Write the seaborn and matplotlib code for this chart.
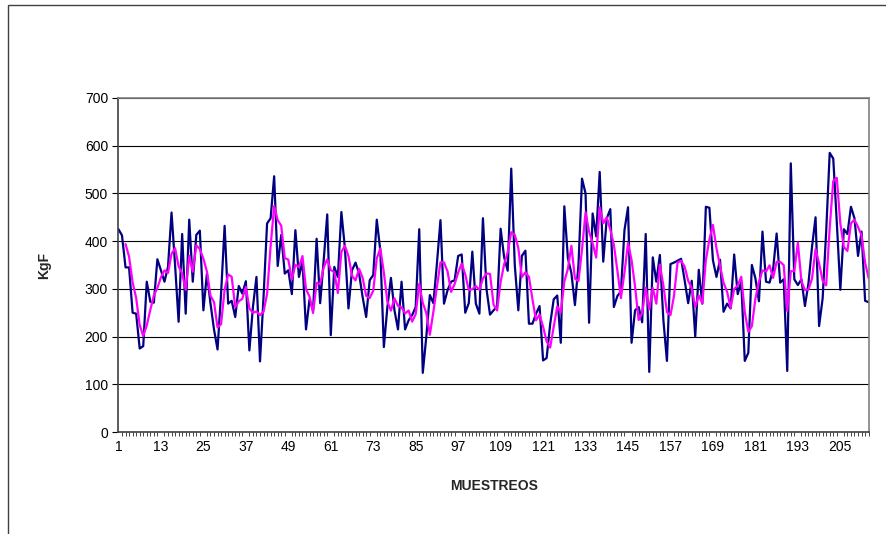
import matplotlib
matplotlib.use("Agg")
import matplotlib.pyplot as plt
import matplotlib.ticker as ticker
from matplotlib.patches import Rectangle
import seaborn as sns
import pandas as pd

sns.set_style("white")
plt.rcParams["font.family"] = ["Liberation Sans", "DejaVu Sans"]

# KgF per sample
kgf = [
    425, 412, 345, 345, 250, 248, 175, 180, 315, 273,
    271, 362, 339, 315, 346, 460, 350, 231, 415, 248,
    445, 315, 413, 422, 255, 332, 270, 215, 173, 290,
    432, 269, 275, 241, 306, 290, 316, 171, 262, 325,
    148, 283, 437, 448, 536, 348, 413, 332, 339, 289,
    423, 325, 358, 215, 278, 255, 405, 270, 360, 456,
    203, 346, 325, 461, 385, 259, 339, 355, 332, 283,
    241, 318, 329, 445, 380, 178, 262, 323, 255, 215,
    315, 215, 234, 245, 262, 425, 124, 200, 287, 270,
    353, 444, 269, 297, 315, 318, 369, 372, 250, 270,
    378, 269, 248, 448, 300, 246, 255, 263, 426, 366,
    338, 552, 350, 255, 369, 380, 227, 227, 248, 264,
    150, 155, 226, 278, 286, 187, 473, 365, 333, 266,
    350, 531, 500, 229, 458, 410, 545, 357, 448, 467,
    262, 285, 295, 423, 471, 187, 255, 262, 230, 415,
    126, 366, 315, 371, 234, 149, 352, 355, 359, 363,
    318, 270, 317, 200, 340, 269, 472, 470, 360, 325,
    361, 252, 269, 259, 372, 289, 315, 149, 166, 350,
    322, 274, 420, 315, 313, 341, 416, 313, 320, 128,
    563, 320, 308, 320, 264, 312, 388, 450, 222, 280,
    420, 585, 573, 440, 298, 425, 415, 472, 448, 369,
    420, 275, 272,
]
muestreos = list(range(1, len(kgf) + 1))
x_ticks = list(range(1, 206, 12))
y_ticks = [0, 100, 200, 300, 400, 500, 600, 700]

df = pd.DataFrame({"MUESTREOS": muestreos, "KgF": kgf})
# Excel style 3 period moving average trendline
df["media"] = df["KgF"].rolling(3).mean()

fig = plt.figure(figsize=(8.86, 5.34), dpi=100)
ax = fig.add_axes([0.1337, 0.191, 0.8475, 0.6255])

sns.lineplot(data=df, x="MUESTREOS", y="KgF", color="#000080", lw=1.6, ax=ax)
sns.lineplot(data=df, x="MUESTREOS", y="media", color="#FF00FF", lw=1.6, ax=ax)

ax.set_xlim(1, len(kgf) + 0.2)
ax.set_ylim(0, 700)
ax.set_xticks(x_ticks)
ax.xaxis.set_minor_locator(ticker.FixedLocator(muestreos))
ax.set_yticks(y_ticks)
ax.tick_params(axis="both", labelsize=10, colors="black", direction="out")
ax.tick_params(axis="x", which="major", length=3, width=0.8, pad=3)
ax.tick_params(axis="x", which="minor", length=3, width=0.6, bottom=True)
ax.tick_params(axis="y", length=4, width=0.8, left=True)

ax.yaxis.grid(True, color="black", lw=0.8)
ax.xaxis.grid(False)

for side in ["left", "bottom"]:
    ax.spines[side].set_color("#404040")
    ax.spines[side].set_linewidth(1.2)
for side in ["top", "right"]:
    ax.spines[side].set_color("#808080")
    ax.spines[side].set_linewidth(1.2)

ax.set_xlabel("MUESTREOS", fontsize=10, fontweight="bold")
ax.set_ylabel("KgF", fontsize=10, fontweight="bold")
ax.xaxis.set_label_coords(0.5, -0.142)
ax.yaxis.set_label_coords(-0.09, 0.5)

# outer chart border
fig.add_artist(Rectangle((8 / 886, -0.5), 1.5, 0.9906 + 0.5, transform=fig.transFigure,
                         fill=False, edgecolor="#404040", lw=1))

fig.savefig("out.png", dpi=100)
